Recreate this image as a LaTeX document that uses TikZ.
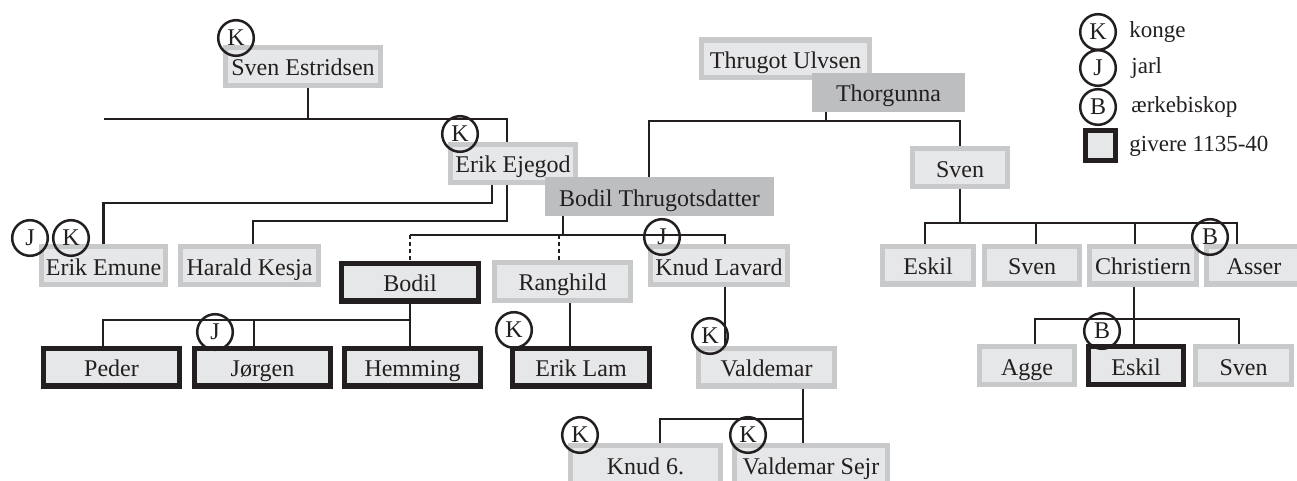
\documentclass[tikz,border=0pt]{standalone}
\usepackage{fontspec}
\setmainfont{Liberation Serif}
\usetikzlibrary{positioning}

\definecolor{boxfill}{RGB}{230,231,232}
\definecolor{boxrim}{RGB}{200,201,203}
\definecolor{parentfill}{RGB}{188,190,192}
\definecolor{ink}{RGB}{35,31,32}

\tikzset{
  person/.style={rectangle, inner sep=0pt, fill=boxfill, line width=2.6pt,
    minimum width=#1*0.5pt-2.6pt, minimum height=18.9pt,
    text height=10.5pt, text depth=1pt,
    font=\fontsize{12}{14}\selectfont, text=ink},
  plain/.style={person=#1, draw=boxrim},
  giver/.style={person=#1, draw=ink},
  parent/.style={person=#1, fill=parentfill, minimum width=#1*0.5pt,
    minimum height=19.5pt, outer sep=0pt},
  rank/.style={circle, draw=ink, line width=1.25pt, inner sep=0pt,
    minimum size=17.8pt, font=\fontsize{12}{14}\selectfont, text=ink},
  legend/.style={anchor=west, inner sep=0pt, font=\fontsize{11.5}{14}\selectfont, text=ink},
  kin/.style={draw=ink, line width=1.35pt},
  kindot/.style={kin, dash pattern=on 2pt off 1.5pt}
}

\begin{document}
\begin{tikzpicture}[x=0.5pt, y=-0.5pt]
\useasboundingbox (0,0) rectangle (1297,481);

% people
\node[plain=160] (svenE) at (303,66.5) {Sven Estridsen};
\node[plain=130] (erikEj) at (513,163.5) {Erik Ejegod};
\node[plain=173] (thrugot) at (785.5,59) {Thrugot Ulvsen};
\node[parent=153] (thorgunna) at (888.5,92.5) {Thorgunna};
\node[parent=229] (bodilT) at (659.5,196.5) {Bodil Thrugotsdatter};
\node[plain=100] (svenT) at (960,167.5) {Sven};

\node[plain=129] (erikEm) at (103.5,265.5) {Erik Emune};
\node[plain=143] (harald) at (249.5,265.5) {Harald Kesja};
\node[giver=142] (bodil) at (410,282) {Bodil};
\node[plain=141] (ranghild) at (562.5,281.5) {Ranghild};
\node[plain=142] (knudL) at (719,265.5) {Knud Lavard};

\node[giver=141] (peder) at (111.5,367) {Peder};
\node[giver=141] (jorgen) at (262.5,367) {Jørgen};
\node[giver=141] (hemming) at (412.5,367) {Hemming};
\node[giver=142] (erikL) at (581,367) {Erik Lam};
\node[plain=141] (valdemar) at (766.5,367) {Valdemar};
\node[plain=155] (knudS) at (645.5,464.5) {Knud 6.};
\node[plain=158] (valdS) at (811,464.5) {Valdemar Sejr};

\node[plain=96] (eskilA) at (928,265) {Eskil};
\node[plain=100] (svenA) at (1032,265) {Sven};
\node[plain=112] (christiern) at (1143,265) {Christiern};
\node[plain=100] (asser) at (1254,265) {Asser};
\node[plain=100] (agge) at (1027,365.5) {Agge};
\node[giver=100] (eskilB) at (1136,365.5) {Eskil};
\node[plain=101] (svenB) at (1243.5,365.5) {Sven};

% lines of descent
\coordinate (se) at (104,119);
\draw[kin] ([xshift=2.5pt]svenE.south) -- ([xshift=2.5pt]svenE.south |- se);
\draw[kin] (se) -| ([xshift=-3pt]erikEj.north);
\draw[kin] ([xshift=-10.5pt]erikEj.south) -- ++(0,18) -| (erikEm.north);
\draw[kin] ([xshift=-3pt]erikEj.south) -- ++(0,36) -| ([xshift=1.75pt]harald.north);

\coordinate (tg) at (826,121);
\draw[kin] ([xshift=-31.25pt]thorgunna.south) -- (tg);
\draw[kin] ([xshift=-5.25pt]bodilT.north) |- (tg) -| (svenT.north);

\coordinate (bt) at (563,235);
\draw[kin] ([xshift=-48.25pt]bodilT.south) -- (bt);
\draw[kin] (bodil.north |- bt) -| ([xshift=3pt]knudL.north);
\draw[kindot] (bodil.north |- bt) -- (bodil.north);
\draw[kindot] ([xshift=-1.75pt]ranghild.north |- bt) -- ([xshift=-1.75pt]ranghild.north);

\coordinate (bd) at (410,320);
\draw[kin] (bodil.south) -- (bd);
\draw[kin] ([xshift=-4.25pt]peder.north) |- (bd) -- (bd |- hemming.north);
\draw[kin] ([xshift=-4.25pt]jorgen.north) -- ([xshift=-4.25pt]jorgen.north |- bd);
\draw[kin] ([xshift=3.75pt]ranghild.south) -- ([xshift=3.75pt]ranghild.south |- erikL.north);
\draw[kin] ([xshift=3pt]knudL.south) -- ([xshift=3pt]knudL.south |- valdemar.north);

\coordinate (vd) at (803,419);
\draw[kin] ([xshift=18.25pt]valdemar.south) -- (vd) -- (vd |- valdS.north);
\draw[kin] (vd) -| ([xshift=7.25pt]knudS.north);

\coordinate (sv) at (960,223);
\draw[kin] (svenT.south) -- (sv);
\draw[kin] ([xshift=-1.5pt]eskilA.north) |- (sv) -| ([xshift=-8.5pt]asser.north);
\draw[kin] ([xshift=2pt]svenA.north) -- ([xshift=2pt]svenA.north |- sv);
\draw[kin] ([xshift=-4pt]christiern.north) -- ([xshift=-4pt]christiern.north |- sv);

\coordinate (ch) at (1134,319);
\draw[kin] ([xshift=-4.5pt]christiern.south) -- (ch) -- (ch |- eskilB.north);
\draw[kin] ([xshift=4pt]agge.north) |- (ch) -| ([xshift=-2.25pt]svenB.north);

% titles
\node[rank] (kSvenE) at (236,38) {K};
\node[rank] (kErikEj) at (460,134) {K};
\node[rank] (jErikEm) at (30,238) {J};
\node[rank] (kErikEm) at (71,238) {K};
\node[rank] (jKnudL) at (662,237) {J};
\node[rank] (jJorgen) at (215,332) {J};
\node[rank] (kErikL) at (514,330) {K};
\node[rank] (kValdemar) at (710,336) {K};
\node[rank] (kKnudS) at (580,435) {K};
\node[rank] (kValdS) at (748,435) {K};
\node[rank] (bAsser) at (1210,237) {B};
\node[rank] (bEskilB) at (1102,331) {B};

% legend
\node[rank] (lk) at (1098,32) {K};
\node[rank] (lj) at (1098,68) {J};
\node[rank] (lb) at (1098,107) {B};
\node[giver=35, minimum height=14.9pt, text height=0pt, text depth=0pt] (lg) at (1100.5,145.5) {};
\node[legend] (lkt) at (1129,32) {konge};
\node[legend] (ljt) at (1131,68) {jarl};
\node[legend] (lbt) at (1131,107) {ærkebiskop};
\node[legend] (lgt) at (1129,146) {givere 1135-40};
\end{tikzpicture}
\end{document}
